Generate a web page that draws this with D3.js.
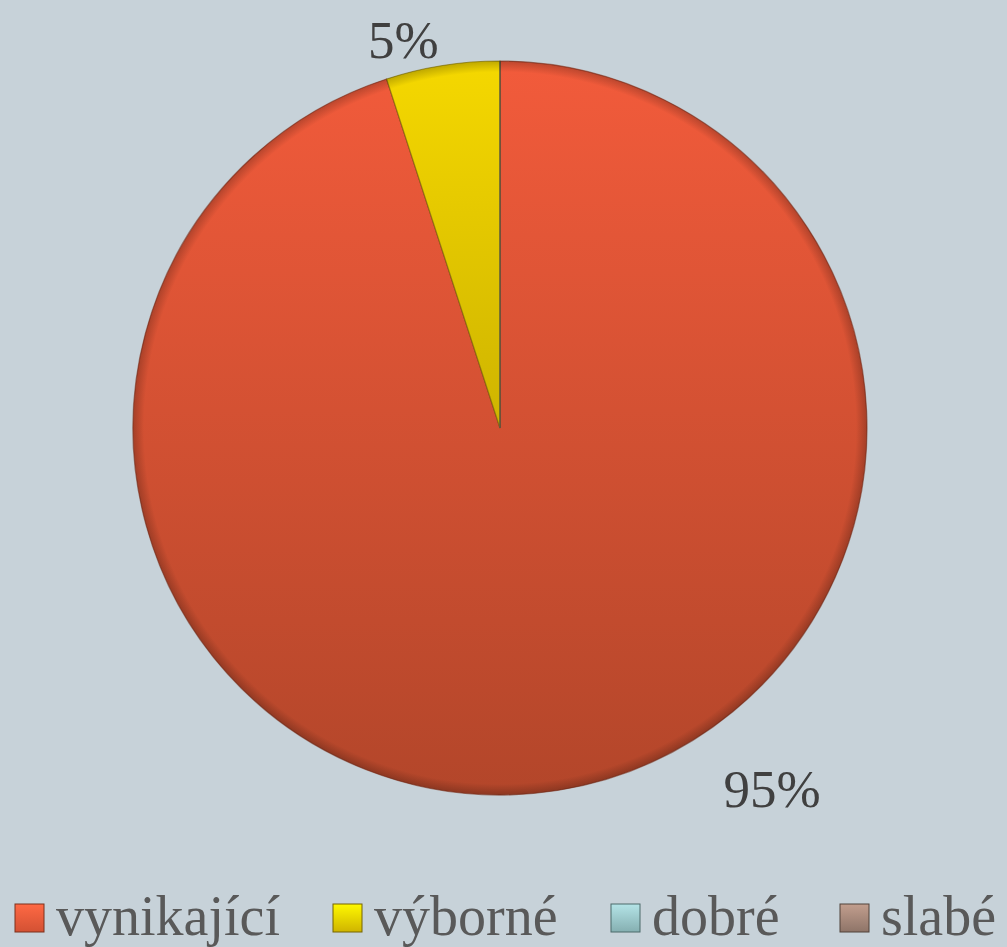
<!DOCTYPE html>
<html lang="cs">
<head>
<meta charset="UTF-8">
<title>Hodnocení</title>
<script src="https://d3js.org/d3.v7.min.js"></script>
<style>
  body { margin: 0; background: #c7d2d9; }
  svg { display: block; }
</style>
</head>
<body>
<div id="chart"></div>
<script>
  const categories = ["vynikající", "výborné", "dobré", "slabé"];
  const values = [95, 5, 0, 0];
  const labels = ["95%", "5%", "", ""];

  const width = 1007;
  const height = 947;
  const cx = 500, cy = 428, radius = 367;

  // colours per category: top / bottom of the gradient
  const colors = [
    ["#f25b3b", "#b3462a"],
    ["#f5d800", "#a89000"],
    ["#9cc6c8", "#6e9799"],
    ["#a8897b", "#735e55"]
  ];

  const svg = d3.select("#chart")
    .append("svg")
    .attr("width", width)
    .attr("height", height);

  svg.append("rect").attr("width", width).attr("height", height).attr("fill", "#c7d2d9");

  const defs = svg.append("defs");
  colors.forEach((c, i) => {
    // slices are drawn inside a group centred on the pie, so use local coords
    const g = defs.append("linearGradient")
      .attr("id", "grad" + i)
      .attr("gradientUnits", "userSpaceOnUse")
      .attr("x1", 0).attr("x2", 0)
      .attr("y1", -radius).attr("y2", radius);
    g.append("stop").attr("offset", "0%").attr("stop-color", c[0]);
    g.append("stop").attr("offset", "100%").attr("stop-color", c[1]);

    const lg = defs.append("linearGradient")
      .attr("id", "lgrad" + i)
      .attr("x1", 0).attr("x2", 0).attr("y1", 0).attr("y2", 1);
    lg.append("stop").attr("offset", "0%").attr("stop-color", d3.color(c[0]).brighter(0.4));
    lg.append("stop").attr("offset", "100%").attr("stop-color", d3.interpolateRgb(c[0], c[1])(0.5));
  });

  // rim shading for the bevel look
  const rim = defs.append("radialGradient")
    .attr("id", "rim")
    .attr("gradientUnits", "userSpaceOnUse")
    .attr("cx", 0).attr("cy", 0).attr("r", radius);
  rim.append("stop").attr("offset", "0.97").attr("stop-color", "#000").attr("stop-opacity", 0);
  rim.append("stop").attr("offset", "1").attr("stop-color", "#000").attr("stop-opacity", 0.22);

  const pie = d3.pie().sort(null).value(d => d)(values);
  const arc = d3.arc().innerRadius(0).outerRadius(radius);

  const g = svg.append("g").attr("transform", `translate(${cx},${cy})`);

  g.selectAll("path.slice")
    .data(pie)
    .join("path")
    .attr("class", "slice")
    .attr("d", arc)
    .attr("fill", (d, i) => `url(#grad${i})`)
    .attr("stroke", (d, i) => d3.color(colors[i][1]).darker(1))
    .attr("stroke-width", 1.2)
    .attr("stroke-opacity", 0.6);

  g.append("circle")
    .attr("r", radius)
    .attr("fill", "url(#rim)");

  // data labels outside the pie (best fit offsets, as the source chart places them)
  const labelOffset = [{ angle: 143, r: 452 }, { angle: -14, r: 400 }];
  pie.forEach((d, i) => {
    if (!labels[i]) return;
    const a = labelOffset[i].angle * Math.PI / 180;
    g.append("text")
      .attr("x", Math.sin(a) * labelOffset[i].r)
      .attr("y", -Math.cos(a) * labelOffset[i].r)
      .attr("text-anchor", "middle")
      .attr("dominant-baseline", "central")
      .attr("font-family", "'Liberation Serif', serif")
      .attr("font-size", 53)
      .attr("fill", "#404040")
      .text(labels[i]);
  });

  // legend
  const legendX = [15, 333, 611, 840];

  const legend = svg.append("g")
    .selectAll("g")
    .data(categories)
    .join("g")
    .attr("transform", (d, i) => `translate(${legendX[i]},904)`);

  legend.append("rect")
    .attr("width", 29)
    .attr("height", 28)
    .attr("fill", (d, i) => `url(#lgrad${i})`)
    .attr("stroke", (d, i) => d3.color(colors[i][1]).darker(1))
    .attr("stroke-width", 1);

  legend.append("text")
    .attr("x", 41)
    .attr("y", 31)
    .attr("font-family", "'Liberation Serif', serif")
    .attr("font-size", 56)
    .attr("fill", "#595959")
    .text(d => d);
</script>
</body>
</html>
